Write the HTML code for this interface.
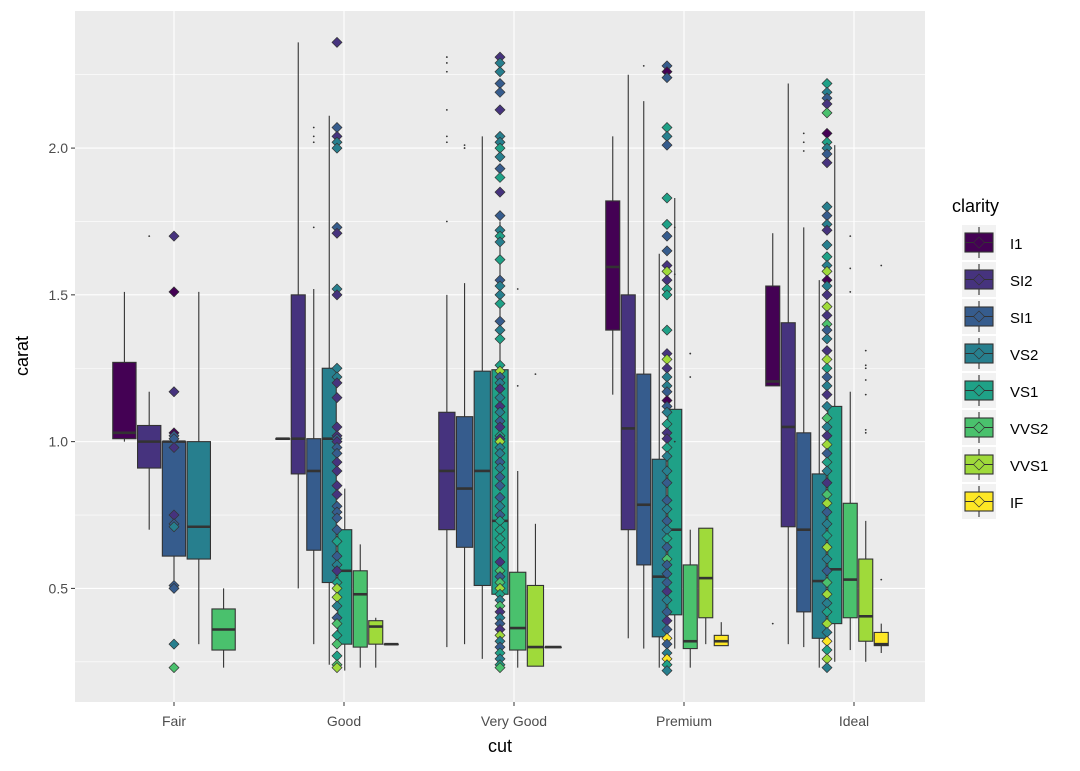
<!DOCTYPE html>
<html><head><meta charset="utf-8"><style>
body{margin:0;background:#fff;}
svg{display:block;font-family:"Liberation Sans",sans-serif;}
</style></head><body>
<svg id="chart" width="1080" height="771" xmlns="http://www.w3.org/2000/svg">
<rect x="0" y="0" width="1080" height="771" fill="#fff"/>
<rect x="75" y="11" width="850" height="691" fill="#EBEBEB"/>
<g id="grid"></g><g id="boxes"></g><g id="points"></g><g id="axes"></g><g id="legend"></g>
</svg>
<script>
const categories = ["Fair","Good","Very Good","Premium","Ideal"];
const clarities = ["I1","SI2","SI1","VS2","VS1","VVS2","VVS1","IF"];
const colors = ["#440154","#46337E","#365C8D","#277F8E","#1FA187","#4AC16D","#9FDA3A","#FDE725"];
const yTicks = [0.5,1.0,1.5,2.0];
const yTickLabels = ["0.5","1.0","1.5","2.0"];
const yMinor = [0.25,0.75,1.25,1.75,2.25];
// clarity index present per cut (dodged in order)
const groupClarities = [[0,1,2,3,5],[0,1,2,3,4,5,6,7],[1,2,3,4,5,6,7],[0,1,2,3,4,5,6,7],[0,1,2,3,4,5,6,7]];
// box stats per cut: [lowWhisker, q1, median, q3, highWhisker]
const statsFair = [[1.00,1.01,1.03,1.27,1.51],[0.70,0.91,1.00,1.055,1.17],[0.51,0.61,1.00,1.00,1.00],[0.31,0.60,0.71,1.00,1.51],[0.23,0.29,0.36,0.43,0.50]];
const statsGood = [[1.01,1.01,1.01,1.01,1.01],[0.50,0.89,1.01,1.50,2.36],[0.31,0.63,0.90,1.01,1.52],[0.24,0.52,1.01,1.25,2.11],[0.22,0.31,0.56,0.70,0.84],[0.23,0.30,0.48,0.56,0.65],[0.23,0.31,0.37,0.39,0.40],[0.31,0.31,0.31,0.31,0.31]];
const statsVeryGood = [[0.30,0.70,0.90,1.10,1.50],[0.31,0.64,0.84,1.085,1.54],[0.26,0.51,0.90,1.24,2.04],[0.24,0.48,0.73,1.245,1.75],[0.23,0.29,0.365,0.555,0.90],[0.235,0.235,0.30,0.51,0.72],[0.30,0.30,0.30,0.30,0.30]];
const statsPremium = [[1.16,1.38,1.595,1.82,2.04],[0.33,0.70,1.045,1.50,2.25],[0.295,0.58,0.785,1.23,2.16],[0.23,0.335,0.54,0.94,1.64],[0.295,0.41,0.70,1.11,1.83],[0.23,0.295,0.32,0.58,0.70],[0.31,0.40,0.535,0.705,0.705],[0.305,0.305,0.32,0.34,0.385]];
const statsIdeal = [[1.19,1.19,1.205,1.53,1.71],[0.31,0.71,1.05,1.405,2.22],[0.30,0.42,0.70,1.03,1.73],[0.23,0.33,0.525,0.89,1.55],[0.25,0.38,0.565,1.12,2.01],[0.29,0.40,0.53,0.79,1.17],[0.25,0.32,0.405,0.60,0.73],[0.28,0.305,0.31,0.35,0.38]];
// outliers: [slot, value]
const outFair = [[1,1.70]];
const outGood = [[2,2.07],[2,2.04],[2,2.02],[2,1.73]];
const outVeryGood = [[0,2.31],[0,2.29],[0,2.26],[0,2.13],[0,2.04],[0,2.02],[0,1.75],[1,2.01],[1,2.00],[4,1.52],[4,1.19],[5,1.23]];
const outPremium = [[2,2.28],[4,1.73],[4,1.57],[4,1.00],[5,1.30],[5,1.22]];
const outIdeal = [[0,0.38],[2,2.05],[2,2.02],[2,1.99],[5,1.70],[5,1.59],[5,1.51],[6,1.31],[6,1.26],[6,1.25],[6,1.21],[6,1.16],[6,1.04],[6,1.03],[7,1.60],[7,0.53]];
// jittered/raw points: [value, clarityIndex]
const ptsFair = [[1.70,1],[1.51,0],[1.17,1],[1.03,0],[1.02,2],[1.01,2],[0.98,1],[0.75,1],[0.72,2],[0.71,3],[0.51,2],[0.50,2],[0.31,3],[0.23,5]];
const ptsGood = [[2.36,1],[2.07,2],[2.04,1],[2.02,3],[2.00,3],[1.73,2],[1.71,1],[1.52,3],[1.50,1],[1.25,3],[1.22,3],[1.20,1],[1.15,1],[1.05,1],[1.02,1],[1.01,2],[1.00,1],[0.98,2],[0.96,2],[0.93,1],[0.90,1],[0.85,1],[0.82,1],[0.78,2],[0.76,2],[0.74,2],[0.70,2],[0.66,4],[0.61,2],[0.58,3],[0.56,1],[0.52,4],[0.50,6],[0.47,6],[0.44,3],[0.40,2],[0.38,5],[0.34,4],[0.31,5],[0.27,4],[0.24,5],[0.23,6]];
const ptsVeryGood = [[2.31,1],[2.29,3],[2.26,3],[2.22,2],[2.19,2],[2.13,1],[2.04,3],[2.02,3],[2.00,4],[1.97,3],[1.93,2],[1.90,4],[1.85,1],[1.77,2],[1.72,3],[1.70,4],[1.68,3],[1.62,4],[1.55,2],[1.53,3],[1.50,3],[1.47,4],[1.41,2],[1.38,3],[1.35,4],[1.26,4],[1.24,6],[1.22,2],[1.20,3],[1.18,1],[1.15,3],[1.12,1],[1.10,3],[1.07,2],[1.05,1],[1.02,4],[1.01,1],[1.00,6],[0.98,3],[0.96,3],[0.93,2],[0.91,3],[0.88,2],[0.85,2],[0.81,2],[0.78,3],[0.75,2],[0.73,4],[0.70,4],[0.67,4],[0.64,4],[0.59,1],[0.56,5],[0.54,2],[0.52,5],[0.50,6],[0.48,4],[0.46,3],[0.44,5],[0.42,1],[0.40,3],[0.38,2],[0.36,1],[0.34,6],[0.32,3],[0.30,2],[0.28,4],[0.26,3],[0.24,4],[0.23,5]];
const ptsPremium = [[2.28,2],[2.26,0],[2.24,2],[2.07,4],[2.04,3],[2.01,2],[1.83,4],[1.74,4],[1.70,2],[1.65,2],[1.60,1],[1.58,6],[1.55,1],[1.52,4],[1.50,4],[1.38,4],[1.30,1],[1.28,6],[1.25,1],[1.22,3],[1.19,3],[1.17,2],[1.14,0],[1.12,2],[1.10,3],[1.06,4],[1.03,1],[1.01,1],[0.98,4],[0.95,3],[0.90,3],[0.86,2],[0.80,2],[0.77,3],[0.73,2],[0.70,3],[0.67,4],[0.64,2],[0.60,5],[0.58,2],[0.55,2],[0.52,2],[0.49,1],[0.46,3],[0.42,2],[0.39,1],[0.36,2],[0.33,7],[0.31,2],[0.28,3],[0.26,7],[0.24,4],[0.22,3]];
const ptsIdeal = [[2.22,4],[2.19,3],[2.17,2],[2.15,1],[2.12,5],[2.05,0],[2.02,4],[2.00,3],[1.98,2],[1.95,1],[1.80,3],[1.77,2],[1.74,3],[1.72,1],[1.67,3],[1.63,4],[1.60,3],[1.58,6],[1.55,0],[1.53,3],[1.50,1],[1.46,6],[1.43,1],[1.40,5],[1.38,2],[1.35,3],[1.31,1],[1.28,6],[1.25,4],[1.22,2],[1.19,3],[1.16,1],[1.12,3],[1.08,5],[1.05,3],[1.02,1],[0.99,6],[0.96,2],[0.93,4],[0.90,3],[0.86,1],[0.82,5],[0.79,6],[0.76,2],[0.72,3],[0.68,4],[0.64,6],[0.60,3],[0.56,2],[0.52,5],[0.48,6],[0.45,3],[0.42,4],[0.38,6],[0.35,3],[0.32,7],[0.29,4],[0.26,6],[0.23,3]];

const allStats=[statsFair,statsGood,statsVeryGood,statsPremium,statsIdeal];
const allOut=[outFair,outGood,outVeryGood,outPremium,outIdeal];
const allPts=[ptsFair,ptsGood,ptsVeryGood,ptsPremium,ptsIdeal];

const NS="http://www.w3.org/2000/svg";
const PL=75,PR=925,PT=11,PB=702;
const yMin=0.113,yMax=2.467;
function y(v){return PB-(v-yMin)/(yMax-yMin)*(PB-PT);}
function x(i){return 174+i*170;}
const groupShift=[0,-7,-14,-17,-27]; // layout offsets of dodge groups
const groupWidth=124;
function mk(tag,attrs,parent){const e=document.createElementNS(NS,tag);for(const k in attrs)e.setAttribute(k,attrs[k]);parent.appendChild(e);return e;}
const grid=document.getElementById('grid'),boxes=document.getElementById('boxes'),points=document.getElementById('points'),axes=document.getElementById('axes'),legend=document.getElementById('legend');

yMinor.forEach(v=>{const l=mk('line',{x1:PL,x2:PR,y1:y(v),y2:y(v),stroke:'#fff','stroke-width':0.6},grid);

});
yTicks.forEach((v,i)=>{const l=mk('line',{x1:PL,x2:PR,y1:y(v),y2:y(v),stroke:'#fff','stroke-width':1.1},grid);


const t=mk('line',{x1:PL-4,x2:PL,y1:y(v),y2:y(v),stroke:'#333','stroke-width':1},axes);


const tx=mk('text',{x:PL-7,y:y(v)+5,'text-anchor':'end','font-size':14,fill:'#4D4D4D'},axes);tx.textContent=yTickLabels[i];

});
categories.forEach((c,i)=>{const l=mk('line',{x1:x(i),x2:x(i),y1:PT,y2:PB,stroke:'#fff','stroke-width':1.1},grid);


const t=mk('line',{x1:x(i),x2:x(i),y1:PB,y2:PB+4,stroke:'#333','stroke-width':1},axes);


const tx=mk('text',{x:x(i),y:PB+24,'text-anchor':'middle','font-size':14,fill:'#4D4D4D'},axes);tx.textContent=c;

});
const xt=mk('text',{x:500,y:752,'text-anchor':'middle','font-size':18,fill:'#000'},axes);xt.textContent='cut';


const yt=mk('text',{x:0,y:0,'text-anchor':'middle','font-size':18,fill:'#000',transform:'translate(28,356) rotate(-90)'},axes);yt.textContent='carat';



function diamond(cx,cy,r,fill,parent){const p=mk('polygon',{points:`${cx},${cy-r} ${cx+r},${cy} ${cx},${cy+r} ${cx-r},${cy}`,fill:fill,stroke:'#333','stroke-width':0.7},parent);return p;}

allStats.forEach((st,ci)=>{
 const n=st.length,bw=groupWidth/n,gc=x(ci)+groupShift[ci],g0=gc-groupWidth/2;
 st.forEach((s,k)=>{
  const cl=groupClarities[ci][k],bx=g0+k*bw,cx=bx+bw/2,w=bw-1.5;
  const g=mk('g',{},boxes);
  
  
  mk('line',{x1:cx,x2:cx,y1:y(s[4]),y2:y(s[3]),stroke:'#333','stroke-width':1.1},g);
  mk('line',{x1:cx,x2:cx,y1:y(s[1]),y2:y(s[0]),stroke:'#333','stroke-width':1.1},g);
  mk('rect',{x:bx+0.75,y:y(s[3]),width:w,height:Math.max(0.5,y(s[1])-y(s[3])),fill:colors[cl],stroke:'#333','stroke-width':1.1},g);
  mk('line',{x1:bx+0.75,x2:bx+0.75+w,y1:y(s[2]),y2:y(s[2]),stroke:'#333','stroke-width':2.6},g);
 });
 allOut[ci].forEach(o=>{const d=mk('circle',{cx:g0+o[0]*bw+bw/2,cy:y(o[1]),r:0.9,fill:'#333'},boxes);
  
  });
 allPts[ci].forEach(p=>{const d=diamond(gc,y(p[0]),5,colors[p[1]],points);
  
  });
});

const lt=mk('text',{x:952,y:212,'font-size':18,fill:'#000'},legend);lt.textContent='clarity';


clarities.forEach((c,i)=>{const ky=225+i*37;
 const g=mk('g',{},legend);
 
 
 mk('rect',{x:962,y:ky,width:34,height:35,fill:'#F2F2F2'},g);
 mk('line',{x1:979,x2:979,y1:ky+2,y2:ky+33,stroke:'#333','stroke-width':1.1},g);
 mk('rect',{x:965,y:ky+8,width:28,height:19,fill:colors[i],stroke:'#333','stroke-width':1.1},g);
 mk('line',{x1:965,x2:993,y1:ky+17.5,y2:ky+17.5,stroke:'#333','stroke-width':1.1},g);
 diamond(979,ky+17.5,5.5,colors[i],g);
 const t=mk('text',{x:1010,y:ky+24,'font-size':15,fill:'#000'},g);t.textContent=c;
});
</script>
</body></html>
